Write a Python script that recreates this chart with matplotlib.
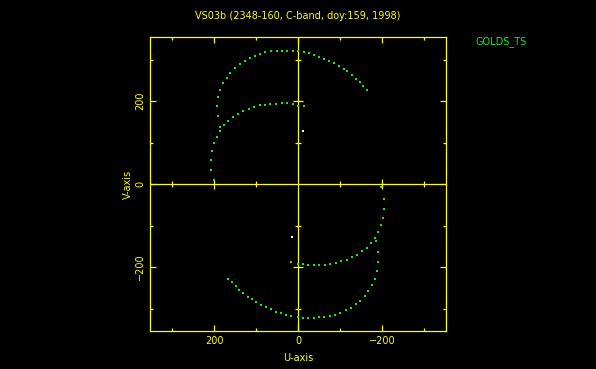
import matplotlib
matplotlib.use('Agg')
import matplotlib.pyplot as plt
from matplotlib.ticker import MultipleLocator

# ---- data (U, V in the plot units) ----
u_upper_outer = [201, 207, 208, 205, 201, 194, 186, 186, 191, 193, 190, 186, 179, 170, 161, 151, 139, 127,
                 115, 102, 90, 78, 65, 51, 39, 26, 13, -1, -14, -26, -38, -50, -63, -74, -86, -97, -109,
                 -118, -129, -139, -148, -156, -164]
v_upper_outer = [9, 35, 59, 80, 98, 114, 129, 138, 165, 188, 209, 227, 244, 257, 269, 280, 290, 298,
                 304, 310, 314, 318, 320, 322, 322, 322, 322, 322, 318, 315, 311, 307, 302, 298, 292, 286, 278,
                 272, 263, 254, 246, 237, 228]

u_upper_inner = [177, 166, 155, 142, 131, 118, 106, 91, 79, 66, 52, 39, 26, 13, -1, -14]
v_upper_inner = [142, 152, 163, 169, 176, 182, 186, 190, 192, 194, 194, 195, 195, 193, 189, 188]

u_lower_inner = [16, 1, -11, -24, -37, -50, -64, -77, -90, -103, -116, -128, -141, -152, -164, -174,
                 -185, -184, -191, -199, -203, -206, -205, -199]
v_lower_inner = [-188, -192, -192, -194, -195, -195, -194, -192, -190, -186, -182, -175, -170, -161, -153, -141,
                 -138, -129, -115, -98, -81, -59, -35, -7]

u_lower_outer = [167, 158, 149, 141, 131, 120, 110, 99, 88, 76, 65, 52, 41, 29, 16, 1, -11, -24, -37, -50,
                 -63, -76, -88, -101, -114, -126, -138, -149, -159, -168, -176, -183, -188, -191, -190]
v_lower_outer = [-228, -237, -246, -255, -263, -271, -278, -285, -291, -297, -302, -307, -311, -315, -318, -321,
                 -322, -322, -322, -321, -320, -318, -315, -310, -304, -298, -290, -281, -269, -257, -242,
                 -228, -209, -188, -164]

u_white = [-12, 15]
v_white = [128, -128]

x_ticks = [200, 0, -200]
y_ticks = [-200, 0, 200]
title = "VS03b (2348-160, C-band, doy:159, 1998)"
legend_label = "GOLDS_TS"

# ---- figure ----
W, H = 596, 369
YEL = '#ffff00'
GRN = '#1ee61e'

fig = plt.figure(figsize=(W / 100, H / 100), dpi=100, facecolor='black')
ax = fig.add_axes([150 / W, (H - 331) / H, 296 / W, 293.7 / H])
ax.set_facecolor('black')

for uu, vv in [(u_upper_outer, v_upper_outer), (u_upper_inner, v_upper_inner),
               (u_lower_inner, v_lower_inner), (u_lower_outer, v_lower_outer)]:
    ax.plot(uu, vv, ls='none', marker='s', ms=1.5, mew=0, color=GRN, zorder=3)
ax.plot(u_white, v_white, ls='none', marker='s', ms=1.7, mew=0, color='white', zorder=3)

ax.set_xlim(353, -353)
ax.set_ylim(-354, 354)

# zero lines with their own ticks
ax.axhline(0, color=YEL, lw=0.9, zorder=2)
ax.axvline(0, color=YEL, lw=0.9, zorder=2)
maj = [-200, 200]
mnr = [-300, -100, 100, 300]
ax.plot(maj, [0] * len(maj), ls='none', marker='|', ms=7, mew=0.9, color=YEL, zorder=2)
ax.plot(mnr, [0] * len(mnr), ls='none', marker='|', ms=4, mew=0.9, color=YEL, zorder=2)
ax.plot([0] * len(maj), maj, ls='none', marker='_', ms=7, mew=0.9, color=YEL, zorder=2)
ax.plot([0] * len(mnr), mnr, ls='none', marker='_', ms=4, mew=0.9, color=YEL, zorder=2)

for s in ax.spines.values():
    s.set_color(YEL)
    s.set_linewidth(0.9)

ax.set_xticks(x_ticks)
ax.set_yticks(y_ticks)
ax.xaxis.set_minor_locator(MultipleLocator(100))
ax.yaxis.set_minor_locator(MultipleLocator(100))
ax.tick_params(which='both', direction='in', top=True, right=True, color=YEL,
               labelcolor=YEL, labelsize=7)
ax.tick_params(which='major', length=4, width=0.9, pad=3.5)
ax.tick_params(which='minor', length=2.2, width=0.9)
ax.tick_params(axis='y', labelrotation=90)
for lab in ax.get_yticklabels():
    lab.set_va('center')

fig.text(298 / W, 1 - 16 / H, title, color=YEL, fontsize=7, ha='center', va='center')
fig.text(298 / W, 1 - 358 / H, 'U-axis', color=YEL, fontsize=7, ha='center', va='center')
fig.text(128 / W, 1 - 184.5 / H, 'V-axis', color=YEL, fontsize=7, ha='center', va='center', rotation=90)
fig.text(475 / W, 1 - 41.7 / H, legend_label, color=GRN, fontsize=7, ha='left', va='center')

fig.savefig('out.png', dpi=100, facecolor='black')
